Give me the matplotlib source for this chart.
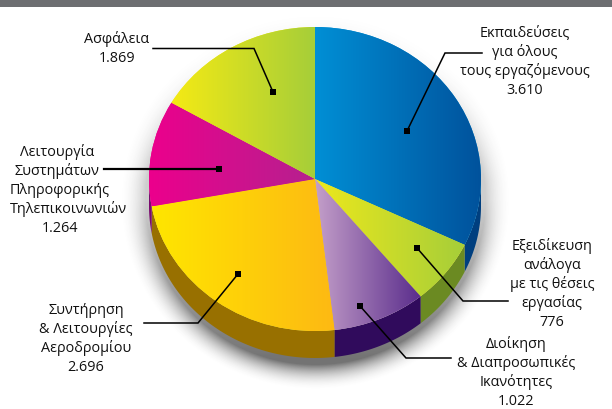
import numpy as np
import matplotlib
matplotlib.use('Agg')
import matplotlib.pyplot as plt
from matplotlib.colors import LinearSegmentedColormap
from matplotlib.patches import Polygon

plt.rcParams['font.family'] = ['Open Sans', 'DejaVu Sans']

# τιμές
labels = [['Εκπαιδεύσεις', 'για όλους', 'τους εργαζόμενους', '3.610'],
          ['Εξειδίκευση', 'ανάλογα', 'με τις θέσεις', 'εργασίας', '776'],
          ['Διοίκηση', '& Διαπροσωπικές', 'Ικανότητες', '1.022'],
          ['Συντήρηση', '& Λειτουργίες', 'Αεροδρομίου', '2.696'],
          ['Λειτουργία', 'Συστημάτων', 'Πληροφορικής', 'Τηλεπικοινωνιών', '1.264'],
          ['Ασφάλεια', '1.869']]
values = [3610, 776, 1022, 2696, 1264, 1869]
colors_left = ['#008fd5', '#ede81c', '#c49fc9', '#ffe600', '#ec008c', '#f5ea14']
colors_right = ['#00529c', '#a6ce39', '#5a2d8c', '#fdb913', '#b5218f', '#a6ce39']
colors_side = ['#003f7f', '#6b8a22', '#300b5c', '#987000', '#7a0a6e', '#6b8a22']

W, H = 612, 410
fig = plt.figure(figsize=(W / 100, H / 100), dpi=100)

# фон и верхняя полоса в пикселях
bg = fig.add_axes([0, 0, 1, 1])
bg.axis('off')
bg.fill_between([0, W], 0, 8, color='#6d6e71', lw=0)

# тень
xx, yy = np.meshgrid(np.arange(W), np.arange(H))
d = (np.sqrt(((xx - 315) / 170.0) ** 2 + ((yy - 200) / 165.0) ** 2) - 1) * 165
f = 0.04 + 0.2 * np.clip((yy - 60) / 120.0, 0, 1) + 0.45 * np.clip((yy - 200) / 160.0, 0, 1)
shadow = np.zeros((H, W, 4))
shadow[..., :3] = 0.2
shadow[..., 3] = np.clip(1 - d / 26.0, 0, 1) ** 2 * f
bg.imshow(shadow, extent=(0, W, H, 0), aspect='auto', zorder=1)
bg.set_xlim(0, W)
bg.set_ylim(H, 0)

# пирог: единичная окружность растянута в эллипс
cx, cy, rx, ry = 315, 180, 166, 152
ax = fig.add_axes([(cx - rx) / W, 1 - (cy + ry) / H, 2 * rx / W, 2 * ry / H])
ax.patch.set_alpha(0)
wedges, _ = ax.pie(values, startangle=90, counterclock=False, radius=1,
                   colors=colors_left, wedgeprops={'lw': 0})
ax.axis('off')

depth = 27 / ry
for w, col in zip(wedges, colors_side):
    # боковая стенка только для нижней половины
    t1, t2 = max(w.theta1, -180), min(w.theta2, 0)
    if t2 <= t1:
        continue
    t = np.radians(np.linspace(t1, t2, 80))
    x = np.cos(t)
    y = np.sin(t)
    pts = np.r_[np.c_[x, y], np.c_[x[::-1], y[::-1] - depth]]
    ax.add_patch(Polygon(pts, closed=True, fc=col, ec='none', zorder=0.5, clip_on=False))

# градиент внутри каждого сектора
for w, c1, c2 in zip(wedges, colors_left, colors_right):
    t = np.radians(np.linspace(w.theta1, w.theta2, 100))
    xs = np.r_[0, np.cos(t)]
    ys = np.r_[0, np.sin(t)]
    cmap = LinearSegmentedColormap.from_list('g', [c1, c2])
    im = ax.imshow(np.linspace(0, 1, 256).reshape(1, -1), cmap=cmap, aspect='auto',
                   extent=(xs.min(), xs.max(), ys.min(), ys.max()), zorder=2)
    im.set_clip_path(w)
ax.set_aspect('auto')
ax.set_xlim(-1, 1)
ax.set_ylim(-1, 1)

# подписи и выноски в пикселях
top = fig.add_axes([0, 0, 1, 1])
top.set_xlim(0, W)
top.set_ylim(H, 0)
top.axis('off')
top.patch.set_alpha(0)

text_pos = [(525, 37), (552, 250), (516, 348), (86, 314), (60, 156), (117, 43)]
line_shift = [[0] * 4, [0] * 5, [0] * 4, [0] * 4, [-3, -3, 0, 8, 0], [0] * 2]
leaders = [[(482, 54), (445, 54), (407, 132)],
           [(508, 302), (463, 302), (417, 249)],
           [(451, 359), (406, 359), (360, 307)],
           [(144, 324), (198, 324), (238, 275)],
           [(104, 170), (219, 170)],
           [(153, 49.5), (254, 49.5), (273, 93)]]
widths = [1.1, 1.1, 1.1, 1.1, 1.6, 1.1]

for lines, (tx, ty), shifts, pts, lw in zip(labels, text_pos, line_shift, leaders, widths):
    for i, (s, dx) in enumerate(zip(lines, shifts)):
        top.text(tx + dx, ty + i * 19, s, ha='center', va='baseline', fontsize=10.4, color='#111111')
    px, py = zip(*pts)
    top.plot(px, py, color='black', lw=lw, solid_joinstyle='miter')
    top.plot(px[-1], py[-1], 's', color='black', ms=4.3, mew=0)

fig.savefig('out.png', dpi=100)
